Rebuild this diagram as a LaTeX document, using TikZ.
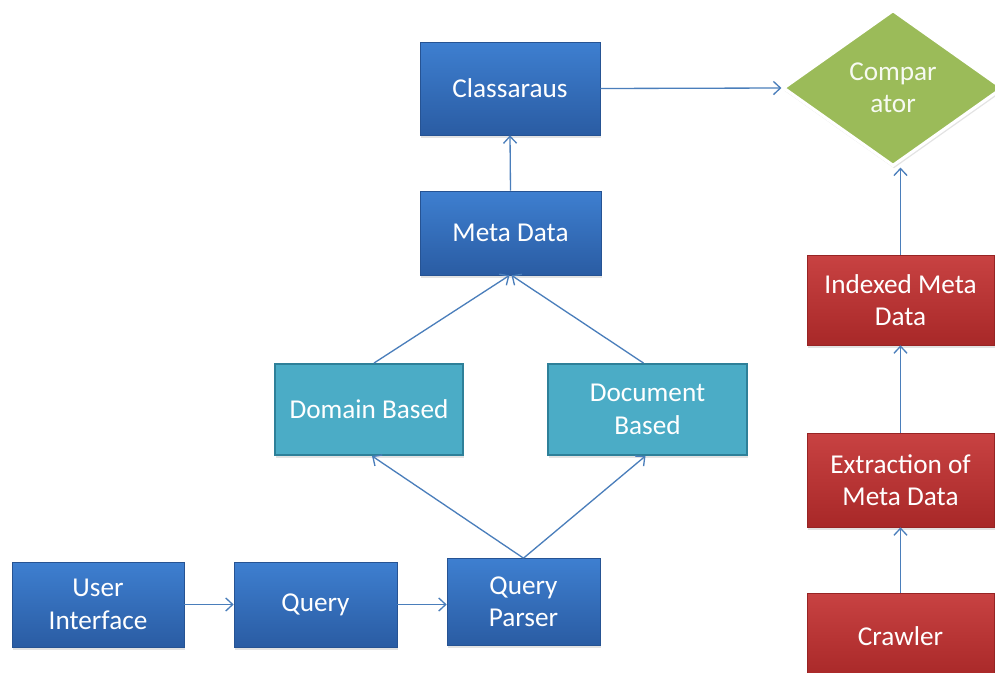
\documentclass[tikz,border=0pt]{standalone}
\usepackage{fontspec}
\setmainfont{Carlito}
\usetikzlibrary{shapes.geometric,arrows.meta,shadows}
\newdimen\pxu \pxu=0.02cm
\definecolor{bluetop}{HTML}{3E7FD0}
\definecolor{bluebot}{HTML}{2A5CA3}
\definecolor{tealfill}{HTML}{4BACC6}
\definecolor{tealline}{HTML}{2E8099}
\definecolor{redtop}{HTML}{C84242}
\definecolor{redbot}{HTML}{A82828}
\definecolor{greenfill}{HTML}{9BBB59}
\definecolor{arrowcol}{HTML}{4A7EBB}
\tikzset{
  boxbase/.style={rectangle, inner sep=0pt, align=center, text=white,
    font=\fontsize{15.5}{18.5}\selectfont,
    drop shadow={opacity=0.22, shadow xshift=0.6pt, shadow yshift=-1.6pt}},
  bluebox/.style={boxbase, top color=bluetop, bottom color=bluebot, draw=bluebot!90!black, line width=0.4pt},
  tealbox/.style={boxbase, fill=tealfill, draw=tealline, line width=1.1pt},
  redbox/.style={boxbase, top color=redtop, bottom color=redbot, draw=redbot!90!black, line width=0.4pt},
  conn/.style={draw=arrowcol, line width=0.75pt, -{Straight Barb[length=4pt,width=7.5pt]}}
}
\begin{document}
\begin{tikzpicture}[x=0.02cm, y=-0.02cm]
\useasboundingbox (0,0) rectangle (995,673);
\clip (0,0) rectangle (995,673);
\fill[white] (0,0) rectangle (995,673);

\node[bluebox, minimum width=180\pxu, minimum height=93\pxu] (cls) at (510,88.5) {Classaraus};
\node[bluebox, minimum width=181\pxu, minimum height=84\pxu] (meta) at (510.5,233) {Meta Data};
\node[tealbox, minimum width=188\pxu, minimum height=91\pxu] (dom) at (369,409.5) {Domain Based};
\node[tealbox, minimum width=199\pxu, minimum height=91\pxu] (doc) at (647.5,409.5) {Document\\Based};
\node[bluebox, minimum width=172\pxu, minimum height=85\pxu] (ui) at (98,604.5) {User\\Interface};
\node[bluebox, minimum width=163\pxu, minimum height=85\pxu] (qry) at (315.5,604.5) {Query};
\node[bluebox, minimum width=153\pxu, minimum height=87\pxu] (qp) at (523.5,602) {Query\\Parser};

\node[diamond, aspect=1.4, inner sep=0pt, minimum width=220\pxu, minimum height=156\pxu,
  fill=greenfill, draw=white, line width=1.8pt, text=white!92!greenfill,
  font=\fontsize{15.5}{18.5}\selectfont, align=center,
  drop shadow={opacity=0.22, shadow xshift=0.6pt, shadow yshift=-1.6pt}] (cmp) at (893,88) {Compar\\ator};

\node[redbox, minimum width=187\pxu, minimum height=90\pxu] (ind) at (900.5,300) {Indexed Meta\\Data};
\node[redbox, minimum width=187\pxu, minimum height=94\pxu] (ext) at (900.5,480) {Extraction of\\Meta Data};
\node[redbox, minimum width=187\pxu, minimum height=86\pxu] (crw) at (900.5,636) {Crawler};

\draw[conn] (cls.east) -- (cmp.west);
\draw[conn] (meta.north) -- (cls.south);
\draw[conn] (dom.north) ++(5,0) coordinate (d1) (d1) -- ([xshift=-1\pxu]meta.south);
\draw[conn] (doc.north) ++(-4,0) coordinate (d2) (d2) -- ([xshift=1\pxu]meta.south);
\draw[conn] (qp.north) -- ([xshift=3\pxu]dom.south);
\draw[conn] (qp.north) -- ([xshift=-2\pxu]doc.south);
\draw[conn] (ui.east) -- (qry.west);
\draw[conn] (qry.east) -- (qp.west |- qry.east);
\draw[conn] (ind.north) -- (ind.north |- cmp.south);
\draw[conn] (ext.north) -- (ind.south);
\draw[conn] (crw.north) -- (ext.south);
\end{tikzpicture}
\end{document}
